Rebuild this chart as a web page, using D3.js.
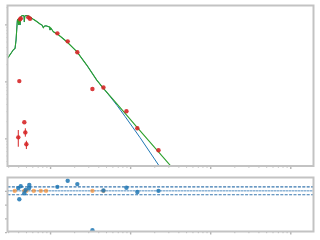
<!DOCTYPE html>
<html><head><meta charset="utf-8">
<script src="https://cdn.jsdelivr.net/npm/d3@7"></script>
<style>html,body{margin:0;padding:0;background:#fff;}svg{display:block;}</style>
</head><body>
<script>
// ---- model spectrum (wavelength in micron, flux) ----
const greenWave = [0.294,0.350,0.365,0.376,0.390,0.398,0.406,0.413,0.422,0.430,0.443,0.460,0.473,0.477,0.483,0.501,0.535,0.562,0.618,0.668,0.750,0.794,0.824,0.854,0.891,0.944,0.986,1.00,1.02,1.10,1.27,1.62,2.16,2.87,3.83,4.64,5.96,8.99,12.3,22.6,32.6,48.7];
const greenFlux = [25.3,36.1,37.6,53.0,115.6,123.9,97.2,129,97.2,134.3,141.6,142.7,139.8,109.7,139.8,142.7,139.8,134.3,122.4,114.2,101.2,97.2,87.2,93.4,94.1,91.5,89.7,79.4,86.1,74.2,65.7,49.5,33.1,19.3,10.5,7.54,5.03,2.57,1.54,0.580,0.320,0.166];
const blueTailWave = [5.62,6.88,8.66,13.3,23.3,31.6];
const blueTailFlux = [5.41,3.76,2.41,1.03,0.320,0.175];

// ---- photometry ----
const obsWave = [0.422,0.430,0.535,0.562,1.234,1.66,2.19,0.413,3.38,4.64,8.99,12.3,22.6,0.477,0.491,0.401,0.506];
const obsFlux = [122.4,127.4,132.7,125.4,69.5,50.3,32.3,10.1,7.33,7.79,2.98,1.50,0.616,1.91,1.27,1.04,0.785];
const obsLo   = [null,null,null,null,null,null,null,null,null,null,null,null,null,null,1.07,0.712,0.649];
const obsHi   = [null,null,null,null,null,null,null,null,null,null,null,null,null,null,1.50,1.40,0.908];

// ---- residuals ----
const resWave = [0.401,0.430,0.413,0.477,0.496,0.550,0.547,1.234,1.66,2.19,3.38,4.64,8.99,12.3,22.6];
const resVal  = [0.20,0.34,-0.61,-0.18,0.07,0.42,0.20,0.29,0.73,0.49,-2.87,0.02,0.22,-0.09,0.0];
const excWave = [0.362,0.477,0.506,0.626,0.765,0.891,3.38,4.64];
const excVal  = [0,0,0,0,0,0,0,0];
const bandLevels = [0.29,-0.29];

// ---- ticks ----
const xMajor = [1,10,100,1000];
const yMajor = [1,10,100];
const resTicks = [0,-1,-2,-3];

const W=320,H=240;
const svg=d3.select("body").append("svg").attr("width",W).attr("height",H);
const L=7.5,R=313.5, mT=5.5,mB=166, rT=177.5,rB=231.5;
const x=d3.scaleLog().domain([0.294,1950]).range([L,R]);
const y=d3.scaleLog().domain([0.327,214]).range([mB,mT]);
const yr=d3.scaleLinear().domain([-2.96,0.97]).range([rB,rT]);

const frameCol="#c3c3c3", tickCol="#b5b5b5";

function minorVals(lo,hi){const v=[];for(let e=-1;e<=3;e++)for(let k=2;k<=9;k++){const t=k*Math.pow(10,e);if(t>lo&&t<hi)v.push(t);}return v;}
const xMinor=minorVals(0.294,1950);
const yMinor=minorVals(0.327,214);

const defs=svg.append("defs");
defs.append("clipPath").attr("id","cm").append("rect").attr("x",L).attr("y",mT).attr("width",R-L).attr("height",mB-mT);
defs.append("clipPath").attr("id","cr").append("rect").attr("x",L).attr("y",rT).attr("width",R-L).attr("height",rB-rT);

// main panel
const gm=svg.append("g").attr("clip-path","url(#cm)");
const line=d3.line().x(d=>x(d[0])).y(d=>y(d[1]));
const nShared=36;
const blueData=greenWave.slice(0,nShared).map((w,i)=>[w,greenFlux[i]]).concat(blueTailWave.map((w,i)=>[w,blueTailFlux[i]]));
const greenData=greenWave.map((w,i)=>[w,greenFlux[i]]);
gm.append("path").attr("d",line(blueData)).attr("fill","none").attr("stroke","#1f77b4").attr("stroke-width",1);
gm.append("path").attr("d",line(greenData)).attr("fill","none").attr("stroke","#2ca02c").attr("stroke-width",1.1);

const obs=obsWave.map((w,i)=>({w,f:obsFlux[i],lo:obsLo[i],hi:obsHi[i]}));
gm.selectAll("line.err").data(obs.filter(d=>d.lo!=null)).enter().append("line")
  .attr("x1",d=>x(d.w)).attr("x2",d=>x(d.w)).attr("y1",d=>y(d.lo)).attr("y2",d=>y(d.hi))
  .attr("stroke","#d62728").attr("stroke-width",1);
gm.selectAll("circle.obs").data(obs).enter().append("circle")
  .attr("cx",d=>x(d.w)).attr("cy",d=>y(d.f)).attr("r",2.2)
  .attr("fill","#d62728").attr("fill-opacity",0.9);

// residual panel
const gr=svg.append("g").attr("clip-path","url(#cr)");
gr.selectAll("line.band").data(bandLevels).enter().append("line")
  .attr("x1",L).attr("x2",R).attr("y1",d=>yr(d)).attr("y2",d=>yr(d))
  .attr("stroke","#3a78b0").attr("stroke-width",1.1).attr("stroke-dasharray","3,1.4");
gr.append("line").attr("x1",L).attr("x2",R).attr("y1",yr(0)).attr("y2",yr(0))
  .attr("stroke","#9cc0e0").attr("stroke-width",1);
gr.append("line").attr("x1",L).attr("x2",R).attr("y1",yr(0)).attr("y2",yr(0))
  .attr("stroke","#3a78b0").attr("stroke-width",1).attr("stroke-dasharray","1,2");
gr.selectAll("circle.exc").data(excWave.map((w,i)=>[w,excVal[i]])).enter().append("circle")
  .attr("cx",d=>x(d[0])).attr("cy",d=>yr(d[1])).attr("r",2.2)
  .attr("fill","#ff7f0e").attr("fill-opacity",0.6);
gr.selectAll("circle.res").data(resWave.map((w,i)=>[w,resVal[i]])).enter().append("circle")
  .attr("cx",d=>x(d[0])).attr("cy",d=>yr(d[1])).attr("r",2.2)
  .attr("fill","#1f77b4").attr("fill-opacity",0.85);

// axes ticks
function ticks(axisGen,tr,size,col,width){
  const g=svg.append("g").attr("transform",tr).call(axisGen.tickSize(size).tickSizeOuter(0).tickFormat(""));
  g.select(".domain").remove();
  g.selectAll(".tick line").attr("stroke",col).attr("stroke-width",width);
  g.selectAll("text").remove();
}
ticks(d3.axisBottom(x).tickValues(xMajor),`translate(0,${mB+0.5})`,2.5,tickCol,1.4);
ticks(d3.axisBottom(x).tickValues(xMinor),`translate(0,${mB+0.5})`,1.2,tickCol,1);
ticks(d3.axisBottom(x).tickValues(xMajor),`translate(0,${rB+0.5})`,2.5,tickCol,1.4);
ticks(d3.axisBottom(x).tickValues(xMinor),`translate(0,${rB+0.5})`,1.2,tickCol,1);
ticks(d3.axisLeft(y).tickValues(yMajor),`translate(${L-0.5},0)`,2,tickCol,1.2);
ticks(d3.axisLeft(y).tickValues(yMinor),`translate(${L-0.5},0)`,1,"#d8d8d8",0.8);
ticks(d3.axisLeft(yr).tickValues(resTicks),`translate(${L-0.5},0)`,2,tickCol,1.2);

// frames
svg.append("rect").attr("x",L).attr("y",mT).attr("width",R-L).attr("height",mB-mT)
  .attr("fill","none").attr("stroke",frameCol).attr("stroke-width",2);
svg.append("rect").attr("x",L).attr("y",rT).attr("width",R-L).attr("height",rB-rT)
  .attr("fill","none").attr("stroke",frameCol).attr("stroke-width",2);
</script>
</body></html>
